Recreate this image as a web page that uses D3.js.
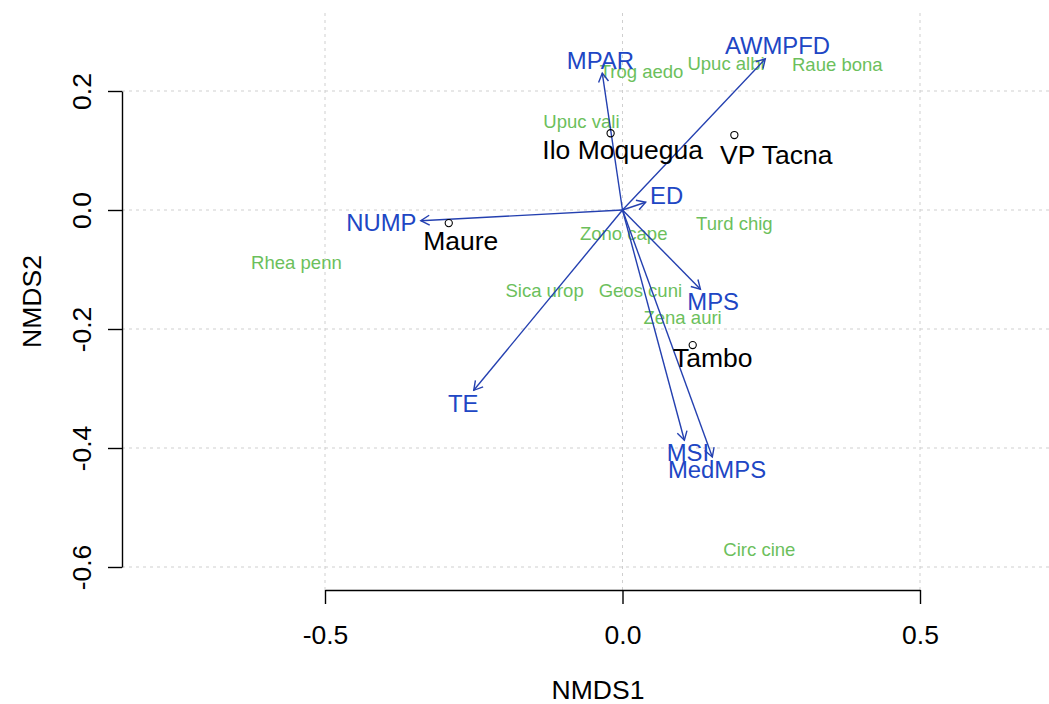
<!DOCTYPE html>
<html>
<head>
<meta charset="utf-8">
<script src="https://cdn.jsdelivr.net/npm/d3@7"></script>
<style>
  html, body { margin: 0; padding: 0; background: #ffffff; }
  svg { display: block; font-family: "Liberation Sans", Arial, Helvetica, sans-serif; }
</style>
</head>
<body>
<svg id="chart" width="1049" height="704"></svg>
<script>
// NMDS site scores
const siteNames = ["Ilo Moquegua", "VP Tacna", "Maure", "Tambo"];
const siteX = [-0.020, 0.188, -0.292, 0.118];
const siteY = [0.129, 0.126, -0.022, -0.227];

// species scores (abbreviated names)
const speciesNames = ["Trog aedo", "Upuc albi", "Raue bona", "Upuc vali", "Turd chig",
  "Zono cape", "Sica urop", "Geos cuni", "Zena auri", "Rhea penn", "Circ cine"];
const speciesX = [0.032, 0.174, 0.361, -0.069, 0.188, 0.002, -0.131, 0.030, 0.101, -0.548, 0.230];
const speciesY = [0.232, 0.247, 0.245, 0.148, -0.022, -0.039, -0.136, -0.136, -0.180, -0.089, -0.570];

// fitted landscape metrics (arrow heads)
const envNames = ["MPAR", "AWMPFD", "ED", "NUMP", "MPS", "TE", "MSI", "MedMPS"];
const envX = [-0.034, 0.240, 0.039, -0.339, 0.131, -0.250, 0.104, 0.151];
const envY = [0.230, 0.254, 0.013, -0.018, -0.133, -0.303, -0.387, -0.415];

// axis ticks
const xTicks = [-0.5, 0.0, 0.5];
const yTicks = [0.2, 0.0, -0.2, -0.4, -0.6];

// ---- layout ----
const W = 1049, H = 704;
const plot = { left: 122, top: 13, right: 1074, bottom: 590 };
const fs = 26.5;               // base text size (axes, sites)
const envFs = fs * 0.9;        // fitted vector labels
const spFs = fs * 0.7;         // species labels
const siteNudge = [[12, 16], [42, 20], [12, 18], [20, 13]]; // site label offsets (px)

const x = d3.scaleLinear().domain([-0.5, 0.5]).range([325, 920]);
const y = d3.scaleLinear().domain([-0.6, 0.2]).range([567, 91]);

const svg = d3.select("#chart");
const fmt = d => d.toFixed(1);

// dotted reference grid
const grid = svg.append("g")
  .attr("stroke", "#cfcfcf").attr("stroke-width", 1).attr("stroke-dasharray", "3,4");
grid.selectAll("line.v").data(xTicks).join("line")
  .attr("x1", d => x(d)).attr("x2", d => x(d))
  .attr("y1", plot.top).attr("y2", plot.bottom);
grid.selectAll("line.h").data(yTicks).join("line")
  .attr("y1", d => y(d)).attr("y2", d => y(d))
  .attr("x1", plot.left).attr("x2", W);

// axes
const xAxis = svg.append("g")
  .attr("transform", `translate(0,${plot.bottom})`)
  .call(d3.axisBottom(x).tickValues(xTicks).tickFormat(fmt).tickSize(14).tickSizeOuter(0).tickPadding(0));
const yAxis = svg.append("g")
  .attr("transform", `translate(${plot.left},0)`)
  .call(d3.axisLeft(y).tickValues(yTicks).tickFormat(fmt).tickSize(14).tickSizeOuter(0).tickPadding(0));

[xAxis, yAxis].forEach(g => {
  g.select(".domain").attr("stroke", "#000").attr("stroke-width", 1.4);
  g.selectAll(".tick line").attr("stroke", "#000").attr("stroke-width", 1.4);
  g.selectAll(".tick text").attr("fill", "#000").attr("font-size", fs)
    .attr("font-family", "Liberation Sans, Arial, sans-serif");
});
xAxis.selectAll(".tick text").attr("y", 45).attr("dy", "0.35em");
yAxis.selectAll(".tick text")
  .attr("x", null).attr("dy", null)
  .attr("text-anchor", "middle")
  .attr("transform", `translate(${82 - plot.left},0) rotate(-90)`)
  .attr("dy", "0.35em");

// axis titles
svg.append("text").attr("x", (plot.left + plot.right) / 2).attr("y", 690).attr("dy", "0.35em")
  .attr("text-anchor", "middle").attr("font-size", fs).text("NMDS1");
svg.append("text").attr("transform", `translate(32,${(plot.top + plot.bottom) / 2}) rotate(-90)`)
  .attr("dy", "0.35em").attr("text-anchor", "middle").attr("font-size", fs).text("NMDS2");

// species labels
svg.append("g").selectAll("text").data(speciesNames).join("text")
  .attr("x", (d, i) => x(speciesX[i])).attr("y", (d, i) => y(speciesY[i]))
  .attr("dy", "0.35em").attr("text-anchor", "middle")
  .attr("font-size", spFs).attr("fill", "#6cbf5c").text(d => d);

// env arrows
const blueLine = "#2440b0", blueText = "#2046c4";
const ox = x(0), oy = y(0);
const arrows = svg.append("g").attr("stroke", blueLine).attr("stroke-width", 1.4).attr("fill", "none");
const headLen = 10, headAng = Math.PI / 6;
envNames.forEach((name, i) => {
  const tx = x(envX[i]), ty = y(envY[i]);
  arrows.append("line").attr("x1", ox).attr("y1", oy).attr("x2", tx).attr("y2", ty);
  const a = Math.atan2(ty - oy, tx - ox);
  const p1 = [tx - headLen * Math.cos(a - headAng), ty - headLen * Math.sin(a - headAng)];
  const p2 = [tx - headLen * Math.cos(a + headAng), ty - headLen * Math.sin(a + headAng)];
  arrows.append("path").attr("d", `M${p1[0]},${p1[1]}L${tx},${ty}L${p2[0]},${p2[1]}`);
});

// env labels placed beyond the arrow tip, clear of the text box
const envLab = svg.append("g").selectAll("text").data(envNames).join("text")
  .attr("text-anchor", "middle").attr("dy", "0.35em")
  .attr("font-size", envFs).attr("fill", blueText).text(d => d);
envLab.each(function (d, i) {
  const w = this.getComputedTextLength();
  const h = 0.72 * envFs;
  const dx = x(envX[i]) - ox, dyUp = oy - y(envY[i]);
  const b = dyUp / dx;
  let offX = Math.sign(dx) * (w / 2 + h / 4);
  let offY = 0.75 * h * Math.sign(dyUp);
  const move = offY / b;
  if (isFinite(move) && Math.abs(move) <= Math.abs(offX)) offX = move;
  else offY = b * offX;
  d3.select(this).attr("x", x(envX[i]) + offX).attr("y", y(envY[i]) - offY);
});

// sites: open circles with names
const sites = svg.append("g");
sites.selectAll("circle").data(siteNames).join("circle")
  .attr("cx", (d, i) => x(siteX[i])).attr("cy", (d, i) => y(siteY[i]))
  .attr("r", 3.6).attr("fill", "none").attr("stroke", "#000").attr("stroke-width", 1.1);
sites.selectAll("text").data(siteNames).join("text")
  .attr("x", (d, i) => x(siteX[i]) + siteNudge[i][0])
  .attr("y", (d, i) => y(siteY[i]) + siteNudge[i][1])
  .attr("dy", "0.35em").attr("text-anchor", "middle")
  .attr("font-size", fs).attr("fill", "#000").text(d => d);
</script>
</body>
</html>
